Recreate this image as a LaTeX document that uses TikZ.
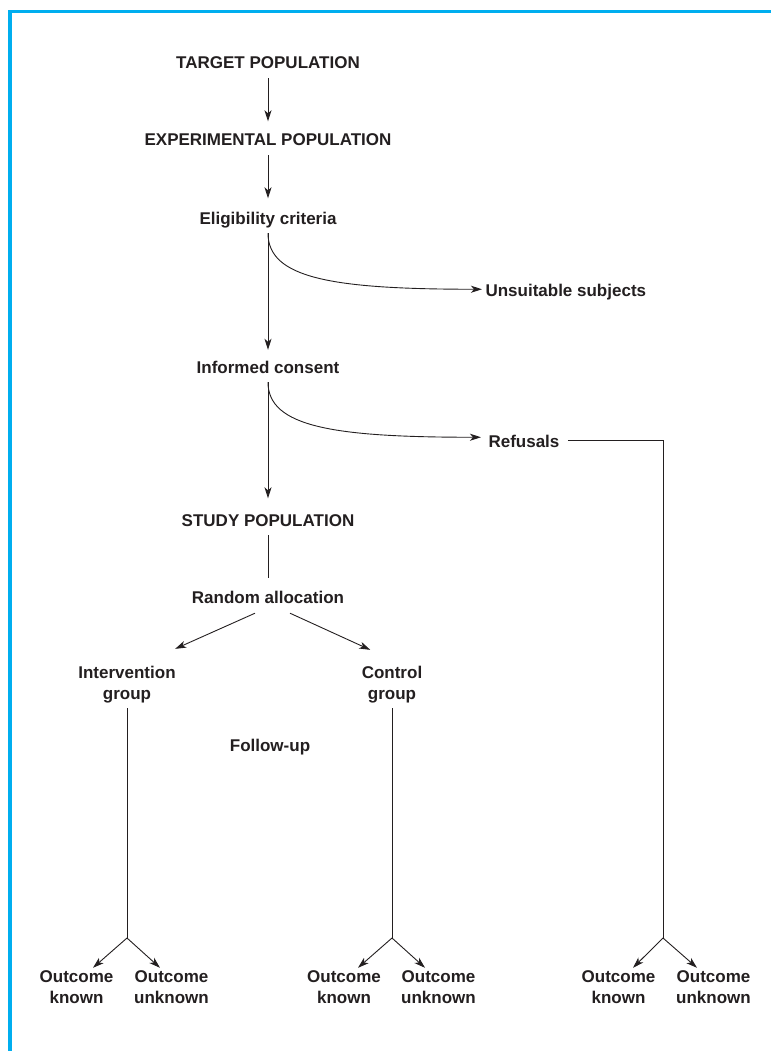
\documentclass[tikz,border=0pt]{standalone}
\usepackage{fontspec}
\setmainfont{Liberation Sans}
\usetikzlibrary{calc,arrows.meta}
\definecolor{ink}{HTML}{231F20}
\definecolor{frameblue}{HTML}{00AEEF}
\tikzset{
  txt/.style={font=\fontsize{17}{21}\selectfont\bfseries, text=ink, inner ysep=5pt},
  lbl/.style={txt, text height=12.5pt, text depth=4pt},
  duo/.style={txt, align=center},
  flow/.style={draw=ink, line width=0.9pt},
  tip/.style={flow, -{Stealth[length=11pt,width=7pt,inset=3pt]}}
}
\begin{document}
\begin{tikzpicture}[x=1pt,y=-1pt]
  \useasboundingbox (0,0) rectangle (771,1051);
  \draw[frameblue, line width=3.3pt] (10,1051) -- (10,11.7) -- (771,11.7);

  \node[lbl, anchor=base] (target) at (268,69) {TARGET POPULATION};
  \node[lbl, anchor=base] (expt) at (268,146) {EXPERIMENTAL POPULATION};
  \node[lbl, anchor=base] (elig) at (268,224) {Eligibility criteria};
  \node[lbl, anchor=base west] (unsuit) at (482,296) {Unsuitable subjects};
  \node[lbl, anchor=base] (consent) at (268,373) {Informed consent};
  \node[lbl, anchor=base west] (refusals) at (485,447) {Refusals};
  \node[lbl, anchor=base] (study) at (268,526) {STUDY POPULATION};
  \node[lbl, anchor=base] (random) at (268,603) {Random allocation};
  \node[duo] (interv) at (127,684.5) {Intervention\\group};
  \node[duo] (control) at (392,684.5) {Control\\group};
  \node[lbl, anchor=base] (followup) at (270,751) {Follow-up};
  \node[duo] (known1) at (76.5,987.5) {Outcome\\known};
  \node[duo] (unknown1) at (171.5,987.5) {Outcome\\unknown};
  \node[duo] (known2) at (344,987.5) {Outcome\\known};
  \node[duo] (unknown2) at (438.5,987.5) {Outcome\\unknown};
  \node[duo] (known3) at (618.5,987.5) {Outcome\\known};
  \node[duo] (unknown3) at (713.5,987.5) {Outcome\\unknown};
  \coordinate (fork1) at (127,938);
  \coordinate (fork2) at (392,938);
  \coordinate (fork3) at (663,938);

  \draw[tip, shorten >=7pt] (target) -- (expt);
  \draw[tip, shorten >=8pt] (expt) -- (elig);
  \draw[tip, shorten >=5.5pt] (elig) -- (consent);
  \draw[tip] (elig.south) .. controls +(0,45) and +(-150,0) .. ([yshift=2.5pt]unsuit.west);
  \draw[tip, shorten >=10pt] (consent) -- (study);
  \draw[tip, shorten >=4pt] (consent.south) .. controls +(0,45) and +(-150,0) .. ([yshift=5.5pt]refusals.west);
  \draw[flow, shorten >=7.5pt] (study) -- (random);
  \draw[tip] ($(random.south)+(-13,1)$) -- ($(interv.north east)+(-4,-12)$);
  \draw[tip] ($(random.south)+(22,1)$) -- ($(control.north west)+(12,-11)$);

  \draw[flow] (interv) -- (fork1);
  \draw[flow] (control) -- (fork2);
  \draw[flow] ([xshift=5pt,yshift=2.75pt]refusals.east) -| (fork3);

  \draw[tip] (fork1) -- ($(known1.north)+(16.5,2)$);
  \draw[tip] (fork1) -- ($(unknown1.north)+(-11.5,2)$);
  \draw[tip] (fork2) -- ($(known2.north)+(14,2)$);
  \draw[tip] (fork2) -- ($(unknown2.north)+(-13.5,2)$);
  \draw[tip] (fork3) -- ($(known3.north)+(14.5,2)$);
  \draw[tip] (fork3) -- ($(unknown3.north)+(-16.5,2)$);
\end{tikzpicture}
\end{document}
